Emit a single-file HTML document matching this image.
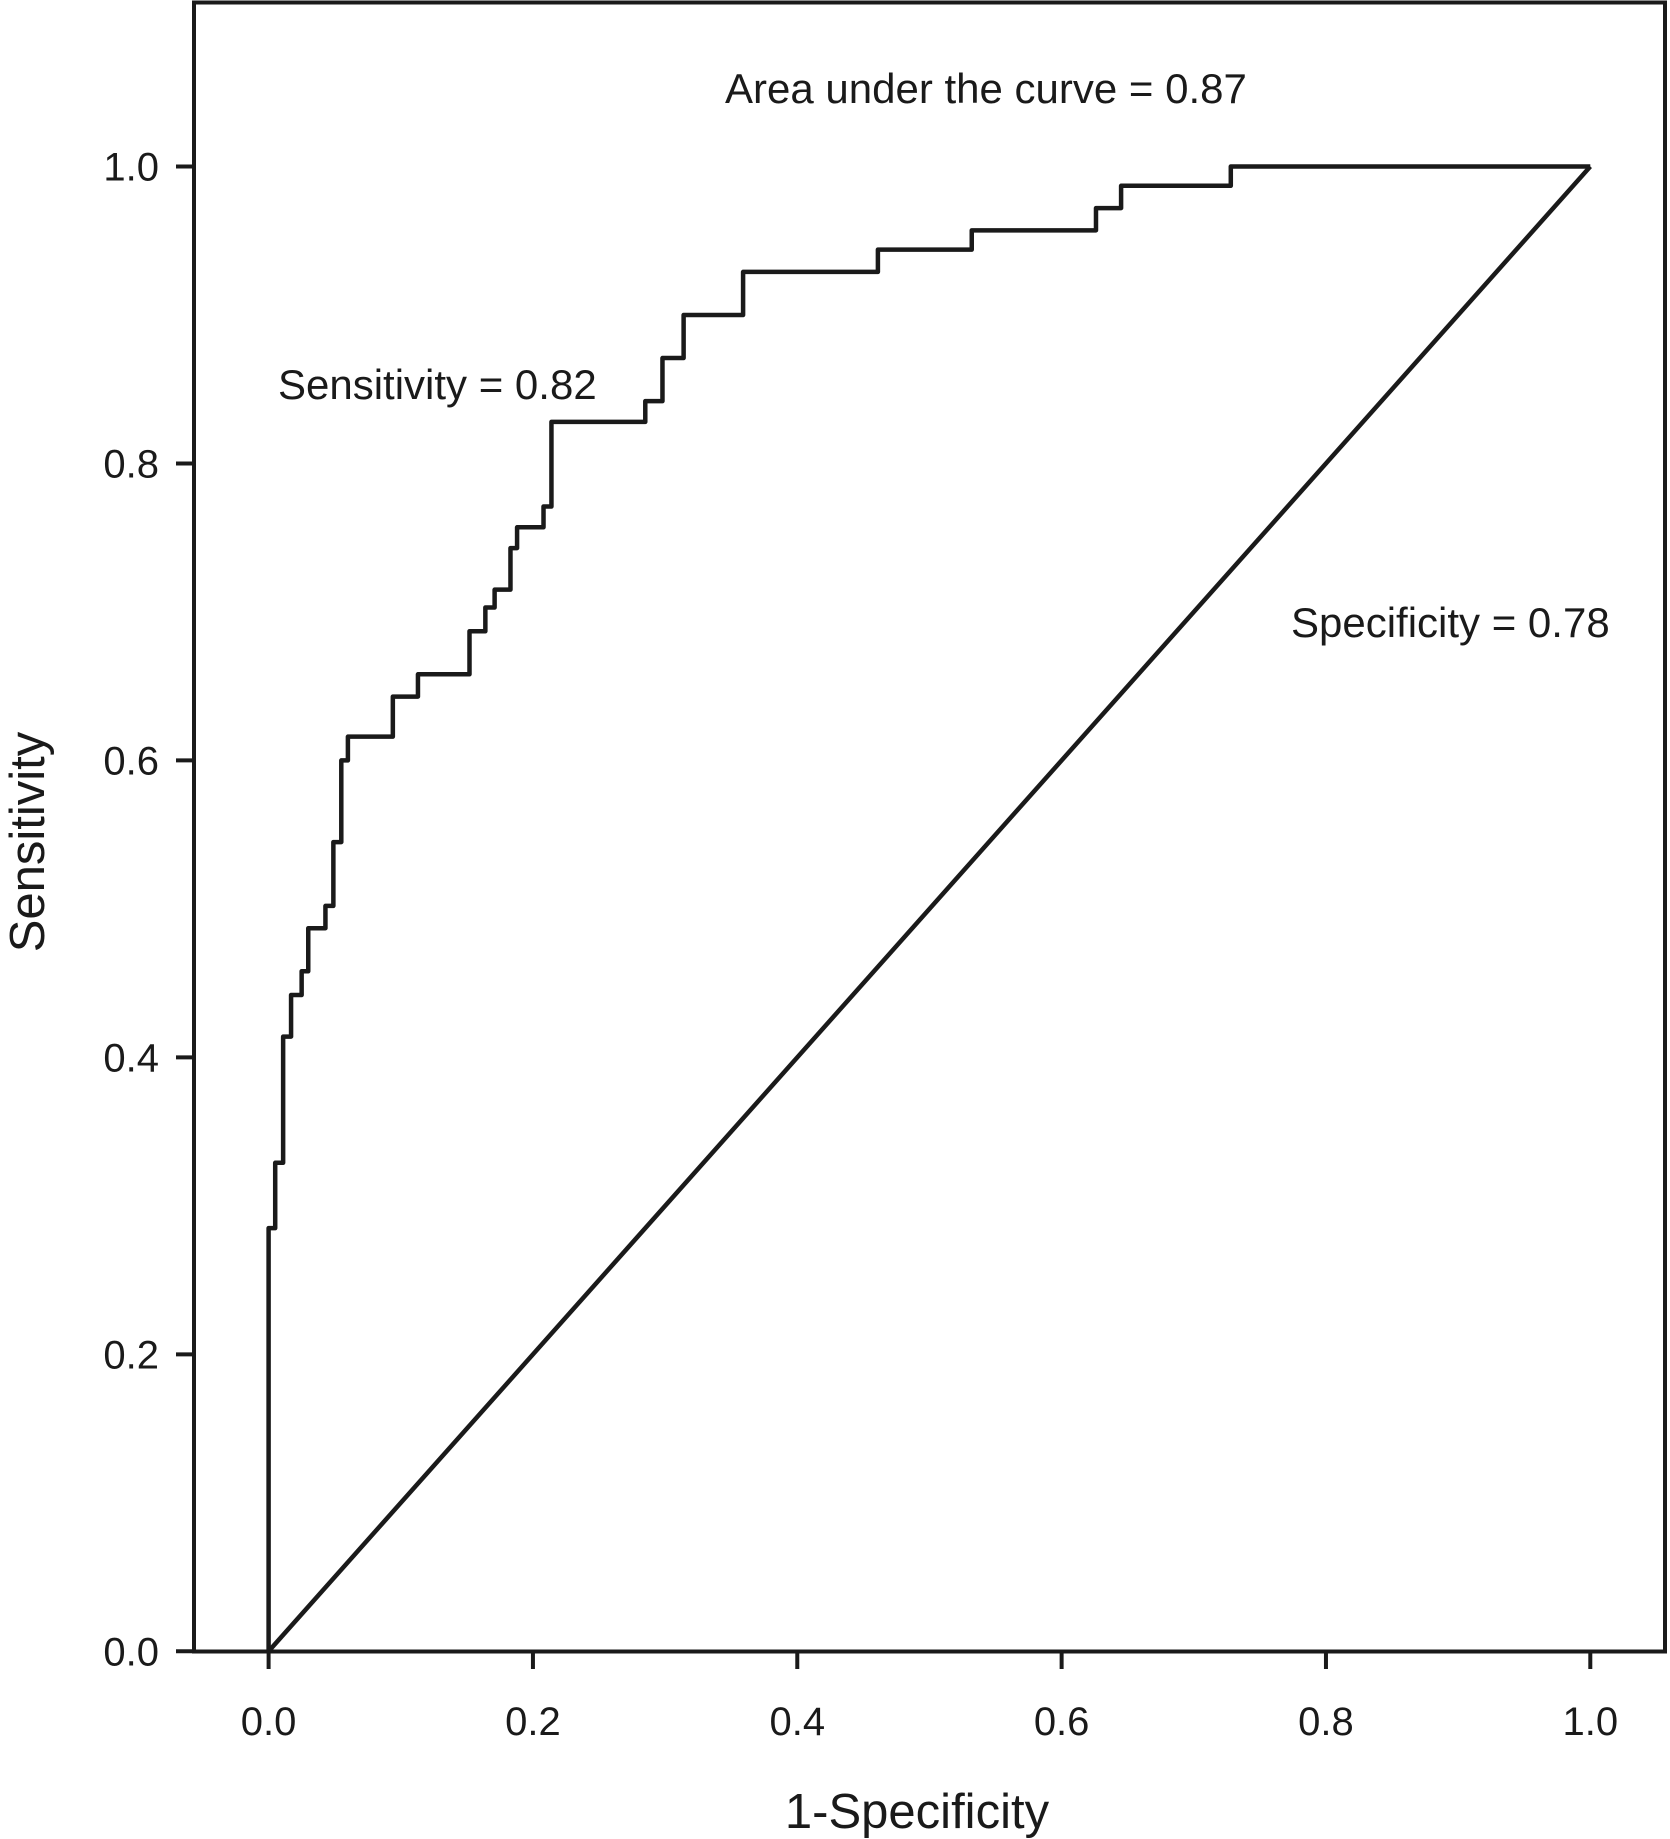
<!DOCTYPE html>
<html><head><meta charset="utf-8"><style>
html,body{margin:0;padding:0;background:#fff;}
svg{display:block;font-family:"Liberation Sans",Arial,sans-serif;}
</style></head>
<body>
<svg id="chart" width="1670" height="1839" viewBox="0 0 1670 1839" xmlns="http://www.w3.org/2000/svg">
<rect x="194" y="2.5" width="1471" height="1649" fill="none" stroke="#1a1a1a" stroke-width="4"/>
<g id="axes"></g>
<path id="diag" fill="none" stroke="#1a1a1a" stroke-width="4.5"/>
<path id="roc" fill="none" stroke="#1a1a1a" stroke-width="4.5" stroke-linejoin="round"/>
<text x="725" y="103" font-size="42" fill="#1a1a1a">Area under the curve = 0.87</text>
<text x="278" y="399" font-size="42" fill="#1a1a1a">Sensitivity = 0.82</text>
<text x="1291" y="637" font-size="42" fill="#1a1a1a">Specificity = 0.78</text>
<text x="917" y="1828" font-size="49" text-anchor="middle" fill="#1a1a1a">1-Specificity</text>
<text transform="translate(44,842) rotate(-90)" font-size="49" text-anchor="middle" fill="#1a1a1a">Sensitivity</text>
</svg>
<script>
const fpr = [0, 0, 0.005, 0.011, 0.017, 0.025, 0.030, 0.043, 0.049, 0.055, 0.060, 0.094, 0.113, 0.152, 0.164, 0.171, 0.183, 0.188, 0.208, 0.214, 0.285, 0.298, 0.314, 0.359, 0.461, 0.532, 0.626, 0.645, 0.728, 1.0];
const tpr = [0, 0.285, 0.329, 0.414, 0.442, 0.458, 0.487, 0.502, 0.545, 0.600, 0.616, 0.643, 0.658, 0.687, 0.703, 0.715, 0.743, 0.757, 0.771, 0.828, 0.842, 0.871, 0.900, 0.929, 0.944, 0.957, 0.972, 0.987, 1.0, 1.0];
const xTicks = [0, 0.2, 0.4, 0.6, 0.8, 1.0];
const yTicks = [0, 0.2, 0.4, 0.6, 0.8, 1.0];
const xTickLabels = ["0.0", "0.2", "0.4", "0.6", "0.8", "1.0"];
const yTickLabels = ["0.0", "0.2", "0.4", "0.6", "0.8", "1.0"];

const X0 = 268.6, X1 = 1590.3, Y0 = 1651.3, Y1 = 166.5;
function xs(v){ return X0 + v * (X1 - X0); }
function ys(v){ return Y0 - v * (Y0 - Y1); }
const NS = "http://www.w3.org/2000/svg";
const axes = document.getElementById('axes');

xTicks.forEach((t, i) => {
  const l = document.createElementNS(NS, 'line');
  l.setAttribute('x1', xs(t)); l.setAttribute('x2', xs(t));
  l.setAttribute('y1', 1651); l.setAttribute('y2', 1669);
  l.setAttribute('stroke', '#1a1a1a'); l.setAttribute('stroke-width', '4');
  
  
  axes.appendChild(l);
  const tx = document.createElementNS(NS, 'text');
  tx.setAttribute('x', xs(t)); tx.setAttribute('y', 1735);
  tx.setAttribute('font-size', '40'); tx.setAttribute('text-anchor', 'middle'); tx.setAttribute('fill', '#1a1a1a');
  tx.textContent = xTickLabels[i];
  
  
  axes.appendChild(tx);
});
yTicks.forEach((t, i) => {
  const l = document.createElementNS(NS, 'line');
  l.setAttribute('x1', 176); l.setAttribute('x2', 194);
  l.setAttribute('y1', ys(t)); l.setAttribute('y2', ys(t));
  l.setAttribute('stroke', '#1a1a1a'); l.setAttribute('stroke-width', '4');
  
  
  axes.appendChild(l);
  const tx = document.createElementNS(NS, 'text');
  tx.setAttribute('x', 159); tx.setAttribute('y', ys(t) + 14);
  tx.setAttribute('font-size', '40'); tx.setAttribute('text-anchor', 'end'); tx.setAttribute('fill', '#1a1a1a');
  tx.textContent = yTickLabels[i];
  
  
  axes.appendChild(tx);
});

let d = 'M' + xs(fpr[0]) + ' ' + ys(tpr[0]);
for (let i = 1; i < fpr.length; i++) {
  d += ' L' + xs(fpr[i]) + ' ' + ys(tpr[i-1]);
  d += ' L' + xs(fpr[i]) + ' ' + ys(tpr[i]);
}
document.getElementById('roc').setAttribute('d', d);
document.getElementById('diag').setAttribute('d', 'M' + xs(0) + ' ' + ys(0) + ' L' + xs(1) + ' ' + ys(1));
</script>
</body></html>
